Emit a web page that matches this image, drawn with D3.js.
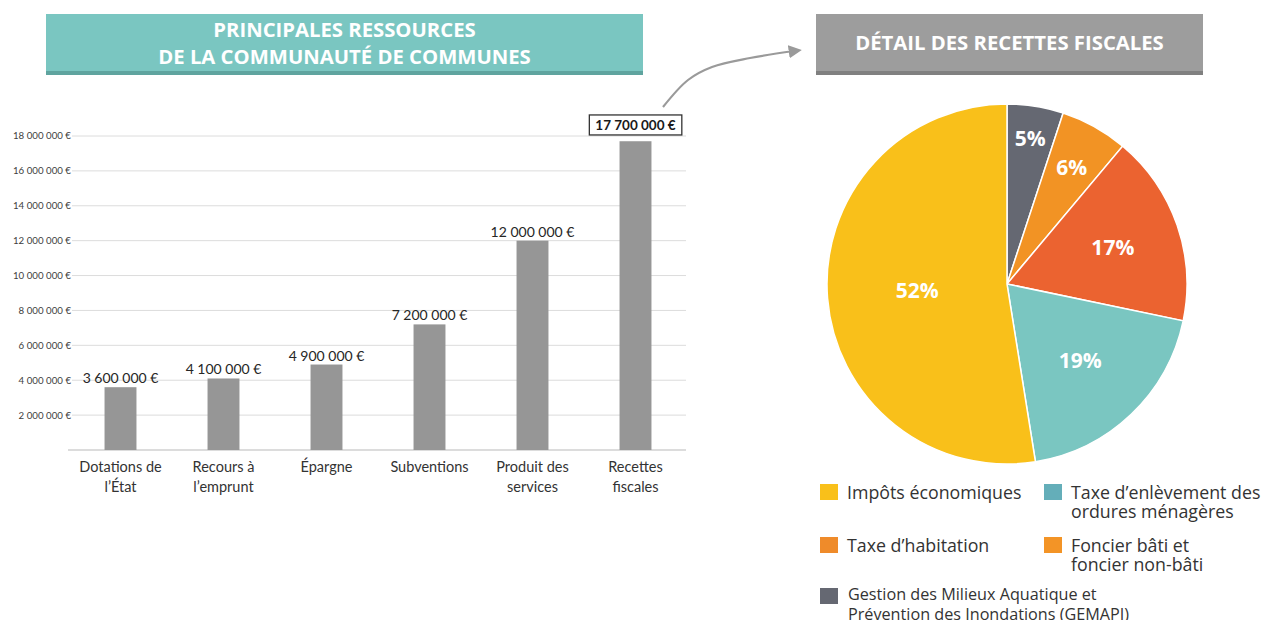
<!DOCTYPE html>
<html><head><meta charset="utf-8">
<script src="https://cdn.jsdelivr.net/npm/d3@7"></script>
<style>body{margin:0;background:#fff}svg{display:block}</style></head>
<body><svg id="c" width="1264" height="620"></svg>
<script>
// ---- data ----
const categories = ["Dotations de\nl’État", "Recours à\nl’emprunt", "Épargne", "Subventions", "Produit des\nservices", "Recettes\nfiscales"];
const values = [3600000, 4100000, 4900000, 7200000, 12000000, 17700000];
const yTicks = [2000000, 4000000, 6000000, 8000000, 10000000, 12000000, 14000000, 16000000, 18000000];
const pieNames = ["GEMAPI", "Foncier", "Taxe d'habitation", "TEOM", "Impôts économiques"];
const pieValues = [5, 6, 17, 19, 52];
const pieLabels = ["5%", "6%", "17%", "19%", "52%"];
const pieColors = ["#656872", "#F29324", "#EB6330", "#7AC6C1", "#F9C01A"];
const legendLabels = ["Impôts économiques", "Taxe d’enlèvement des\nordures ménagères", "Taxe d’habitation", "Foncier bâti et\nfoncier non-bâti", "Gestion des Milieux Aquatique et\nPrévention des Inondations (GEMAPI)"];
const legendColors = ["#F9C01A", "#64AEB9", "#EF8B2A", "#F39426", "#656872"];
const titleLeft = ["PRINCIPALES RESSOURCES", "DE LA COMMUNAUTÉ DE COMMUNES"];
const titleRight = "DÉTAIL DES RECETTES FISCALES";

// ---- layout ----
const svg = d3.select("#c");
const fmt = v => d3.format(",")(v).replace(/,/g, "\u00a0") + "\u00a0€";
const barFont = "Lato, 'Open Sans', sans-serif";
const headFont = "'Open Sans', sans-serif";

// banners
function banner(x, w, fill, dark, lines) {
  svg.append("rect").attr("x", x).attr("y", 14).attr("width", w).attr("height", 61).attr("fill", fill);
  svg.append("rect").attr("x", x).attr("y", 71).attr("width", w).attr("height", 4).attr("fill", dark);
  const t = svg.append("text").attr("x", x + w / 2).attr("text-anchor", "middle")
    .attr("font-family", headFont).attr("font-weight", 700).attr("font-size", 20.3).attr("fill", "#fff");
  const y0 = lines.length === 1 ? 43 : 30;
  lines.forEach((l, i) => t.append("tspan").attr("x", x + w / 2).attr("y", y0 + i * 27).attr("dy", "0.35em").text(l));
}
banner(46, 597, "#7AC6C1", "#5FA49F", titleLeft);
banner(816, 387, "#9D9D9D", "#808080", [titleRight]);

// arrow
svg.append("defs").append("marker").attr("id", "ah").attr("viewBox", "0 0 10 10").attr("refX", 4).attr("refY", 5)
  .attr("markerWidth", 6).attr("markerHeight", 6).attr("orient", "auto")
  .append("path").attr("d", "M0,0L10,5L0,10z").attr("fill", "#9A9A9A");
const arrowPts = [[663, 107], [688, 80], [712, 67], [750, 58], [794, 51]];
svg.append("path").attr("d", d3.line().curve(d3.curveCatmullRom)(arrowPts))
  .attr("fill", "none").attr("stroke", "#9A9A9A").attr("stroke-width", 2.2).attr("marker-end", "url(#ah)");

// bar chart
const x = d3.scaleBand().domain(categories).range([69, 687]).paddingInner(0.69).paddingOuter(0.345);
const y = d3.scaleLinear().domain([0, 18000000]).range([450, 136]);

const g = svg.append("g");
g.selectAll(".grid").data(yTicks).join("line")
  .attr("x1", 72).attr("x2", 686).attr("y1", d => y(d)).attr("y2", d => y(d))
  .attr("stroke", "#DCDCDC").attr("stroke-width", 1);
g.append("line").attr("x1", 68).attr("x2", 686).attr("y1", y(0)).attr("y2", y(0))
  .attr("stroke", "#D0D0D0").attr("stroke-width", 1.5);
g.selectAll(".yl").data(yTicks).join("text")
  .attr("x", 71).attr("y", d => y(d)).attr("dy", "0.35em").attr("text-anchor", "end")
  .attr("font-family", barFont).attr("font-size", 9.7).attr("fill", "#404040").text(fmt);

g.selectAll(".bar").data(values).join("rect")
  .attr("x", (d, i) => x(categories[i])).attr("width", x.bandwidth())
  .attr("y", d => y(d)).attr("height", d => y(0) - y(d)).attr("fill", "#969696");

const last = values.length - 1;
g.selectAll(".vl").data(values.slice(0, last)).join("text")
  .attr("x", (d, i) => x(categories[i]) + x.bandwidth() / 2).attr("y", d => y(d) - 4)
  .attr("text-anchor", "middle").attr("font-family", barFont).attr("font-size", 14).attr("fill", "#262626").text(fmt);

// highlighted label
const lx = x(categories[last]) + x.bandwidth() / 2;
const hl = g.append("text").attr("x", lx).attr("y", y(values[last]) - 16).attr("dy", "0.35em").attr("text-anchor", "middle")
  .attr("font-family", barFont).attr("font-weight", 700).attr("font-size", 13.5).attr("fill", "#1a1a1a").text(fmt(values[last]));
const bb = hl.node().getBBox();
g.insert("rect", "text").attr("x", bb.x - 6).attr("y", bb.y - 2).attr("width", bb.width + 12).attr("height", bb.height + 4)
  .attr("fill", "#fff").attr("stroke", "#333").attr("stroke-width", 1.3);
hl.raise();

g.selectAll(".xl").data(categories).join("text")
  .attr("text-anchor", "middle").attr("font-family", barFont).attr("font-size", 14.5).attr("fill", "#333")
  .each(function (d) {
    const t = d3.select(this);
    d.split("\n").forEach((l, i) => t.append("tspan").attr("x", x(d) + x.bandwidth() / 2).attr("y", 467 + i * 20).attr("dy", "0.35em").text(l));
  });

// pie
const cx = 1007, cy = 284, R = 180;
const labelR = [147, 133, 112, 106, 90];
const pie = d3.pie().sort(null).value(d => d)(pieValues);
const arc = d3.arc().innerRadius(0).outerRadius(R);
const pg = svg.append("g").attr("transform", `translate(${cx},${cy})`);
pg.selectAll("path").data(pie).join("path").attr("d", arc)
  .attr("fill", (d, i) => pieColors[i]).attr("stroke", "#fff").attr("stroke-width", 1.5);
pg.selectAll("text").data(pie).join("text")
  .attr("transform", (d, i) => `translate(${d3.arc().innerRadius(labelR[i]).outerRadius(labelR[i]).centroid(d)})`)
  .attr("dy", "0.35em").attr("text-anchor", "middle").attr("font-family", headFont).attr("font-weight", 700)
  .attr("font-size", 21).attr("fill", "#fff").text((d, i) => pieLabels[i]);

// legend
const legPos = [[820, 484, 17.8], [1044, 484, 17.8], [820, 537, 17.8], [1044, 537, 17.8], [820, 588, 16.2]];
const lg = svg.append("g");
legendLabels.forEach((l, i) => {
  const [lx0, ly0, fs] = legPos[i];
  lg.append("rect").attr("x", lx0).attr("y", ly0).attr("width", 18).attr("height", 16).attr("fill", legendColors[i]);
  const t = lg.append("text").attr("font-family", headFont).attr("font-size", fs).attr("fill", "#333");
  const tx = i === 4 ? lx0 + 28 : lx0 + 27;
  const lh = i === 4 ? 20 : 19;
  const ty = i === 4 ? ly0 + 6 : ly0 + 9;
  l.split("\n").forEach((s, j) => t.append("tspan").attr("x", tx).attr("y", ty + j * lh).attr("dy", "0.35em").text(s));
});
</script></body></html>
